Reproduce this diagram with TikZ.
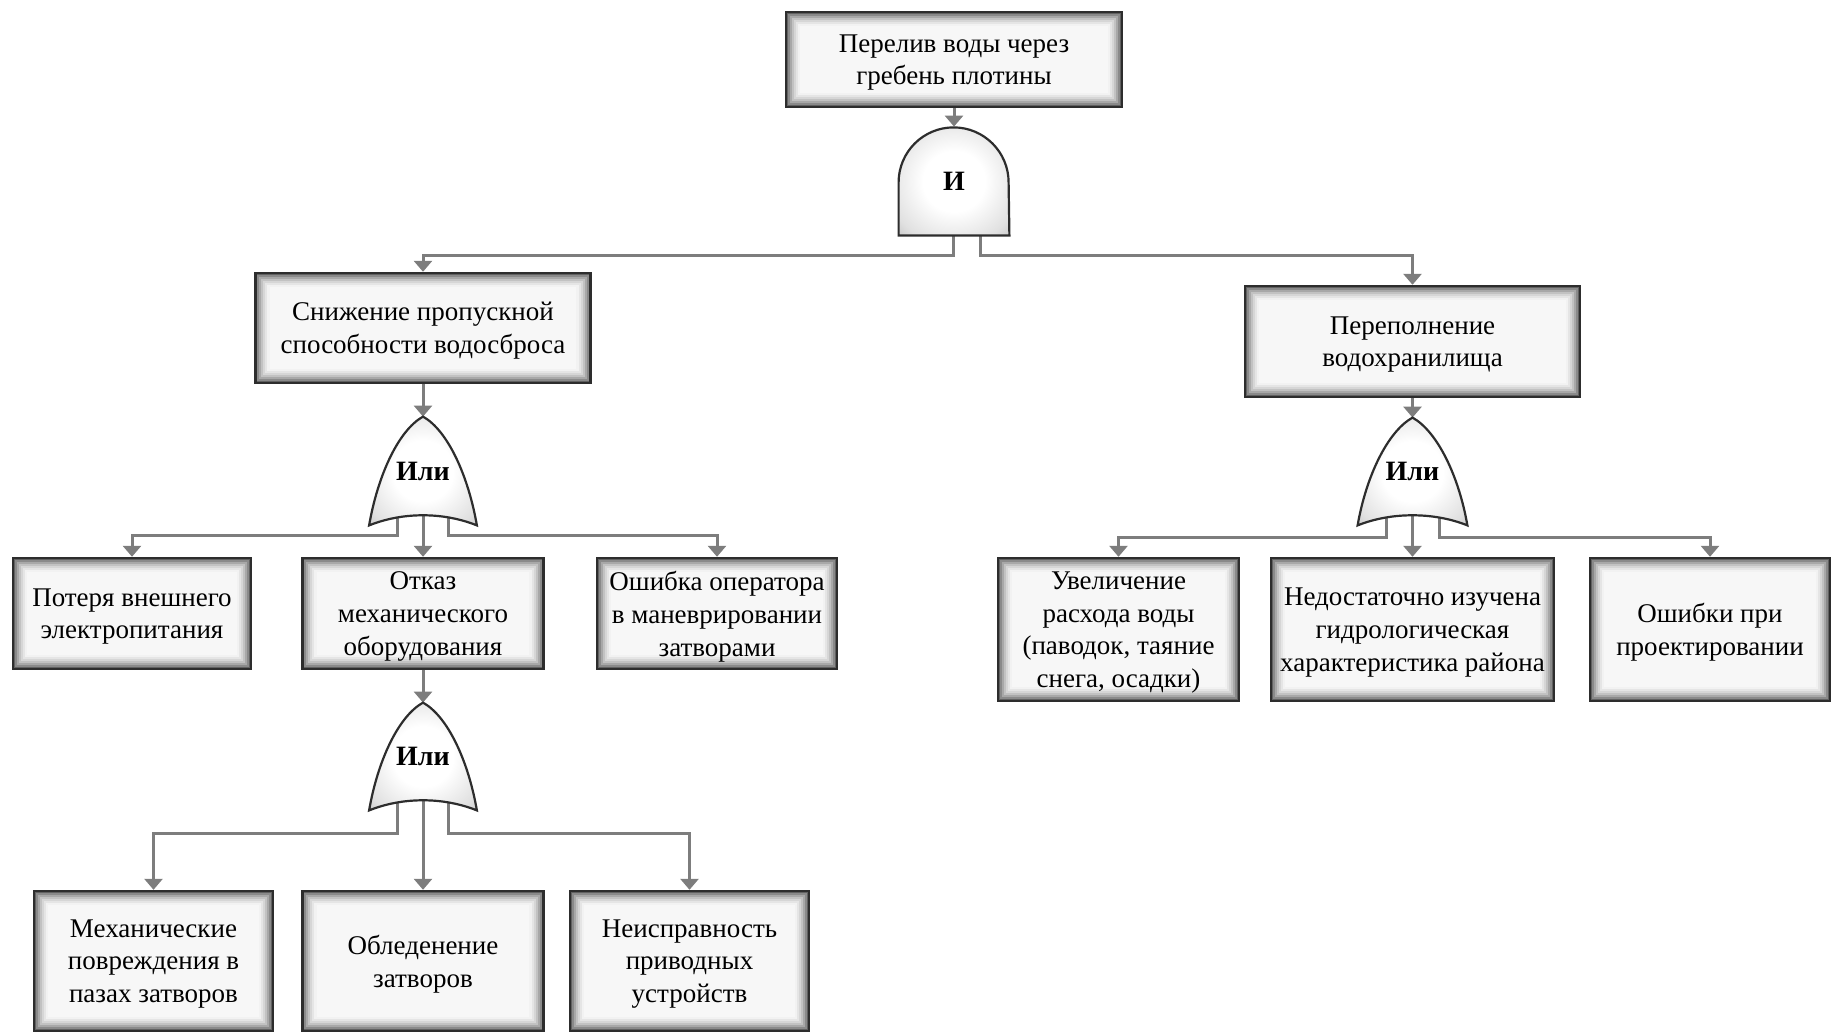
\documentclass[tikz,border=0pt]{standalone}
\usepackage{fontspec}
\setmainfont{Liberation Serif}
\usetikzlibrary{arrows.meta,calc}
\pgfdeclarelayer{background}
\pgfdeclarelayer{gates}
\pgfsetlayers{background,gates,main}
\definecolor{linegray}{RGB}{125,125,125}
\definecolor{edge}{RGB}{45,45,45}
\pgfdeclareradialshading{gateshade}{\pgfpoint{0bp}{0bp}}{color(0bp)=(white); color(14bp)=(white); color(30bp)=(black!12); color(42bp)=(black!30); color(50bp)=(black!50); color(75bp)=(black!55)}
\tikzset{
  box/.style={draw=edge, line width=1.2pt, fill=black!3, inner sep=0pt,
    path picture={
      \foreach \k/\c in {0.5/62,1.5/46,2.5/34,3.5/24,4.5/16,5.5/10,6.5/5}{
        \draw[black!\c, line width=1.05pt]
          ([shift={(\k pt,\k pt)}]path picture bounding box.south west) rectangle
          ([shift={(-\k pt,-\k pt)}]path picture bounding box.north east);}}},
  boxtext/.style={align=center, inner sep=0pt, font=\fontsize{13.5}{16.4}\selectfont},
  gatelabel/.style={inner sep=0pt, font=\fontsize{14}{16}\selectfont\bfseries},
  gateshape/.style={draw=edge, line width=1.1pt, shading=gateshade},
  conn/.style={draw=linegray, line width=1.5pt, -{Triangle[width=9pt,length=5.5pt]}},
}
% #1 name, #2 centre, #3 width, #4 height, #5 text
\newcommand{\EvBox}[5]{%
  \node[box, minimum width=#3, minimum height=#4] (#1) at #2 {};
  \node[boxtext] (#1-t) at ([yshift=-1.5pt]#1.center) {#5};}
\newcommand{\OrGate}[1]{%
  \path[gateshape] (#1.south west)
    .. controls ($(#1.south west)+(8.5,-49)$) and ($(#1.north)+(-25,14)$) .. (#1.north)
    .. controls ($(#1.north)+(25,14)$) and ($(#1.south east)+(-8.5,-49)$) .. (#1.south east)
    .. controls ($(#1.south east)+(-33.5,-13.5)$) and ($(#1.south west)+(33.5,-13.5)$) .. cycle;}
\begin{document}
\begin{tikzpicture}[x=0.5pt,y=-0.5pt]
\useasboundingbox (0,0) rectangle (1831,1033);
% boxes
\EvBox{top}{(954,59.5)}{168pt}{47.5pt}{Перелив воды через\\гребень плотины}
\EvBox{snizh}{(423,328)}{167.5pt}{55pt}{Снижение пропускной\\способности водосброса}
\EvBox{perep}{(1412.5,341.5)}{167.5pt}{55.5pt}{Переполнение\\водохранилища}
\EvBox{poter}{(132,613.5)}{119pt}{55.5pt}{Потеря внешнего\\электропитания}
\EvBox{otkaz}{(423,613.5)}{120.5pt}{55.5pt}{Отказ\\механического\\оборудования}
\EvBox{oper}{(717,613.5)}{120pt}{55.5pt}{Ошибка оператора\\в маневрировании\\затворами}
\EvBox{mech}{(153.5,961)}{119.5pt}{70pt}{Механические\\повреждения в\\пазах затворов}
\EvBox{obled}{(423,961)}{120.5pt}{70pt}{Обледенение\\затворов}
\EvBox{neispr}{(689.5,961)}{119.5pt}{70pt}{Неисправность\\приводных\\устройств}
\EvBox{uvel}{(1118.5,629.5)}{120.5pt}{71.5pt}{Увеличение\\расхода воды\\(паводок, таяние\\снега, осадки)}
\EvBox{nedost}{(1412.5,629.5)}{141.5pt}{71.5pt}{Недостаточно изучена\\гидрологическая\\характеристика района}
\EvBox{oshib}{(1710,629.5)}{120pt}{71.5pt}{Ошибки при\\проектировании}
% gates
\node[gatelabel, minimum width=55pt, minimum height=54pt] (andg) at (954,181) {И};
\node[gatelabel, minimum width=53.5pt, minimum height=54pt] (or1) at (423,471) {Или};
\node[gatelabel, minimum width=53.5pt, minimum height=53.5pt] (or2) at (423,756.5) {Или};
\node[gatelabel, minimum width=54.5pt, minimum height=53.5pt] (or3) at (1412.5,471.5) {Или};
\begin{pgfonlayer}{gates}
\path[gateshape] (andg.south west) -- ++(0,-53) arc[start angle=180, end angle=0, radius=27.5pt] -- (andg.south east) -- cycle;
\OrGate{or1}
\OrGate{or2}
\OrGate{or3}
\end{pgfonlayer}
% connectors
\begin{pgfonlayer}{background}
\draw[conn] (top.south) -- (andg.north);
\draw[conn] ([xshift=-0.5pt]andg.south) -- ++(0,20) -| (snizh.north);
\draw[conn] ([xshift=13pt]andg.south) -- ++(0,20) -| (perep.north);
\draw[conn] (snizh.south) -- (or1.north);
\draw[conn] ([xshift=-13pt,yshift=5pt]or1.south) -- ++(0,20) -| (poter.north);
\draw[conn] ([yshift=5pt]or1.south) -- (otkaz.north);
\draw[conn] ([xshift=12.5pt,yshift=5pt]or1.south) -- ++(0,20) -| (oper.north);
\draw[conn] (otkaz.south) -- (or2.north);
\draw[conn] ([xshift=-13pt,yshift=5pt]or2.south) -- ++(0,33) -| (mech.north);
\draw[conn] ([yshift=5pt]or2.south) -- (obled.north);
\draw[conn] ([xshift=12.5pt,yshift=5pt]or2.south) -- ++(0,33) -| (neispr.north);
\draw[conn] (perep.south) -- (or3.north);
\draw[conn] ([xshift=-13pt,yshift=5pt]or3.south) -- ++(0,22) -| (uvel.north);
\draw[conn] ([yshift=5pt]or3.south) -- (nedost.north);
\draw[conn] ([xshift=13.5pt,yshift=5pt]or3.south) -- ++(0,22) -| (oshib.north);
\end{pgfonlayer}
\end{tikzpicture}
\end{document}
